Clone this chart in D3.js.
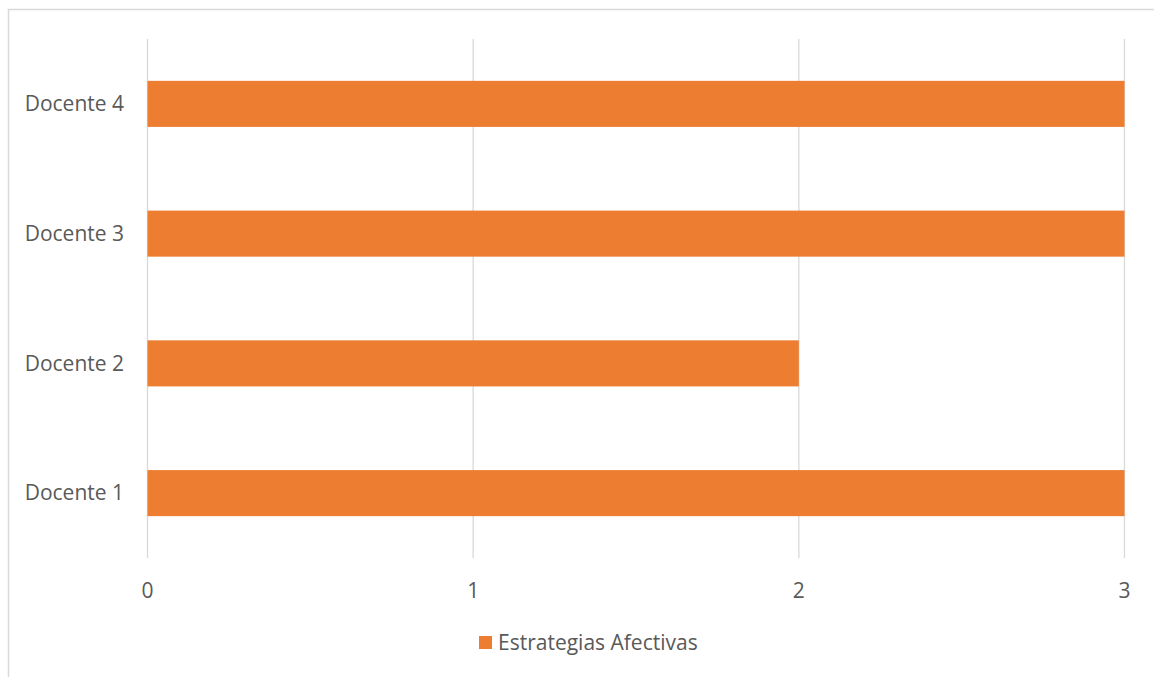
<!DOCTYPE html>
<html><head><meta charset="utf-8">
<script src="https://cdn.jsdelivr.net/npm/d3@7"></script>
<style>body{margin:0;background:#fff}svg{display:block}text{font-family:"Open Sans",sans-serif;fill:#595959}</style>
</head><body><svg id="c" width="1154" height="677"></svg>
<script>
const categories = ["Docente 1","Docente 2","Docente 3","Docente 4"];
const values = [3,2,3,3];
const ticks = [0,1,2,3];
const seriesName = "Estrategias Afectivas";

const svg = d3.select("#c");
svg.append("rect").attr("x",8.5).attr("y",9.5).attr("width",1160).attr("height",700)
  .attr("fill","none").attr("stroke","#D9D9D9").attr("stroke-width",1.5);

const x = d3.scaleLinear().domain([0,3]).range([147.5,1124.5]);
const y = d3.scaleBand().domain(categories.slice().reverse()).range([39,558]).paddingInner(0.645).paddingOuter(0.3225);

svg.append("g").selectAll("line").data(ticks).join("line")
  .attr("x1",d=>x(d)).attr("x2",d=>x(d)).attr("y1",39).attr("y2",558)
  .attr("stroke","#D9D9D9").attr("stroke-width",1.3);

svg.append("g").selectAll("rect").data(categories).join("rect")
  .attr("x",x(0)).attr("y",d=>y(d)).attr("height",y.bandwidth())
  .attr("width",(d,i)=>x(values[i])-x(0)).attr("fill","#ED7D31");

svg.append("g").selectAll("text").data(categories).join("text")
  .attr("x",124).attr("y",d=>y(d)+y.bandwidth()/2).attr("dy","0.35em")
  .attr("text-anchor","end").attr("font-size",21).text(d=>d);

svg.append("g").selectAll("text").data(ticks).join("text")
  .attr("x",d=>x(d)).attr("y",598).attr("text-anchor","middle").attr("font-size",21).text(d=>d);

const lg = svg.append("g");
lg.append("rect").attr("x",479).attr("y",636).attr("width",13).attr("height",13).attr("fill","#ED7D31");
lg.append("text").attr("x",498).attr("y",650).attr("font-size",21).text(seriesName);
</script></body></html>
